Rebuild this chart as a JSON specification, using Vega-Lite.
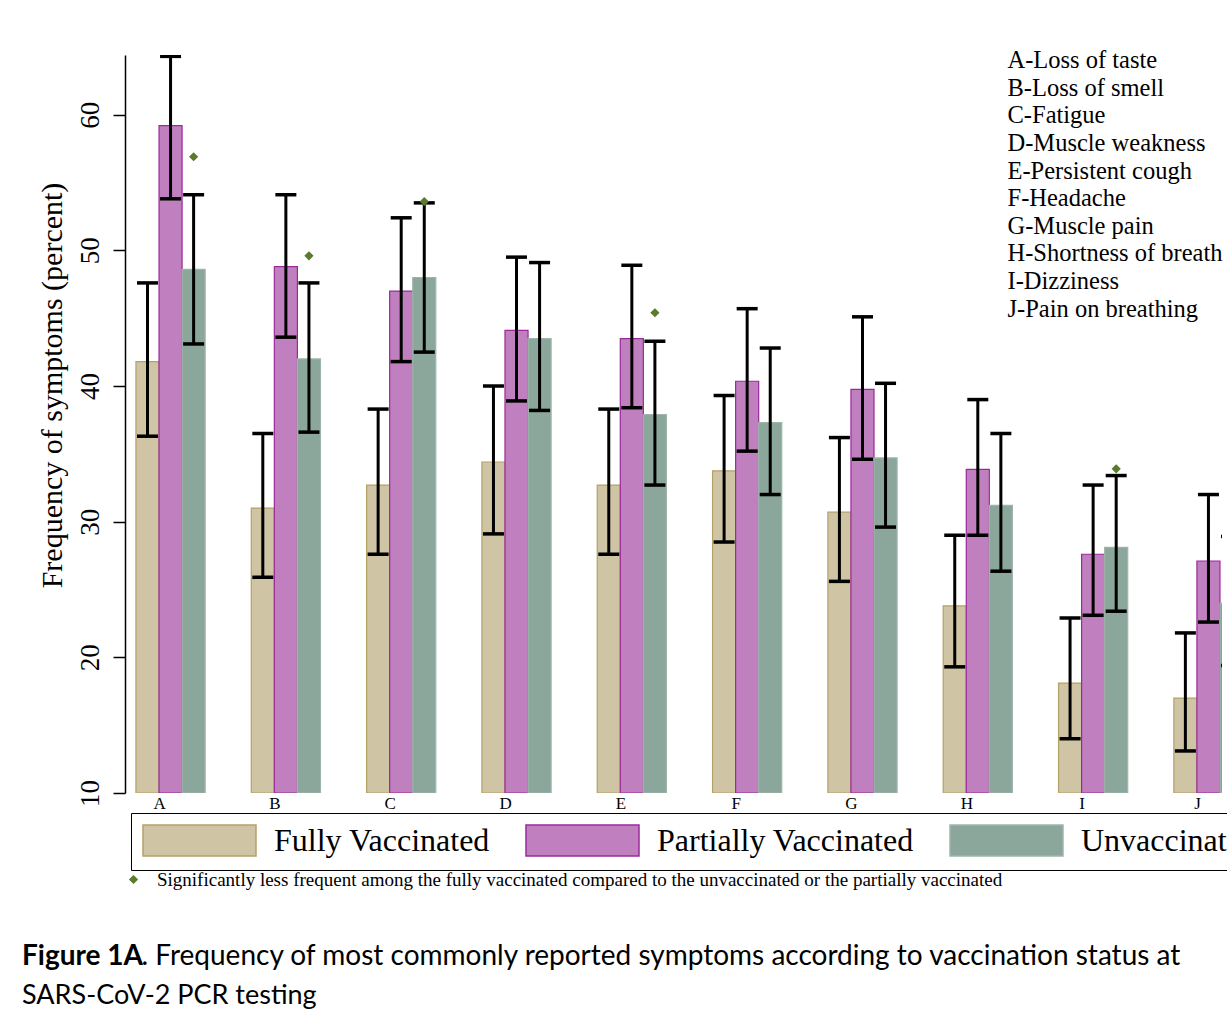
{
  "$schema": "https://vega.github.io/schema/vega-lite/v6.json",
  "autosize": "none",
  "width": 1097,
  "height": 738,
  "padding": {"left": 125, "top": 55, "right": 5, "bottom": 237},
  "background": "white",
  "config": {"view": {"stroke": null}, "font": "Liberation Serif"},
  "datasets": {
    "bars": [
      {"sym": "A", "status": "Fully Vaccinated", "value": 41.8, "lo": 36.3, "hi": 47.6},
      {"sym": "A", "status": "Partially Vaccinated", "value": 59.2, "lo": 53.8, "hi": 64.3},
      {"sym": "A", "status": "Unvaccinated", "value": 48.6, "lo": 43.1, "hi": 54.1},
      {"sym": "B", "status": "Fully Vaccinated", "value": 31.0, "lo": 25.9, "hi": 36.5},
      {"sym": "B", "status": "Partially Vaccinated", "value": 48.8, "lo": 43.6, "hi": 54.1},
      {"sym": "B", "status": "Unvaccinated", "value": 42.0, "lo": 36.6, "hi": 47.6},
      {"sym": "C", "status": "Fully Vaccinated", "value": 32.7, "lo": 27.6, "hi": 38.3},
      {"sym": "C", "status": "Partially Vaccinated", "value": 47.0, "lo": 41.8, "hi": 52.4},
      {"sym": "C", "status": "Unvaccinated", "value": 48.0, "lo": 42.5, "hi": 53.5},
      {"sym": "D", "status": "Fully Vaccinated", "value": 34.4, "lo": 29.1, "hi": 40.0},
      {"sym": "D", "status": "Partially Vaccinated", "value": 44.1, "lo": 38.9, "hi": 49.5},
      {"sym": "D", "status": "Unvaccinated", "value": 43.5, "lo": 38.2, "hi": 49.1},
      {"sym": "E", "status": "Fully Vaccinated", "value": 32.7, "lo": 27.6, "hi": 38.3},
      {"sym": "E", "status": "Partially Vaccinated", "value": 43.5, "lo": 38.4, "hi": 48.9},
      {"sym": "E", "status": "Unvaccinated", "value": 37.9, "lo": 32.7, "hi": 43.3},
      {"sym": "F", "status": "Fully Vaccinated", "value": 33.75, "lo": 28.5, "hi": 39.3},
      {"sym": "F", "status": "Partially Vaccinated", "value": 40.35, "lo": 35.2, "hi": 45.7},
      {"sym": "F", "status": "Unvaccinated", "value": 37.3, "lo": 32.0, "hi": 42.8},
      {"sym": "G", "status": "Fully Vaccinated", "value": 30.7, "lo": 25.6, "hi": 36.2},
      {"sym": "G", "status": "Partially Vaccinated", "value": 39.75, "lo": 34.6, "hi": 45.1},
      {"sym": "G", "status": "Unvaccinated", "value": 34.7, "lo": 29.6, "hi": 40.2},
      {"sym": "H", "status": "Fully Vaccinated", "value": 23.8, "lo": 19.3, "hi": 29.0},
      {"sym": "H", "status": "Partially Vaccinated", "value": 33.85, "lo": 29.0, "hi": 39.0},
      {"sym": "H", "status": "Unvaccinated", "value": 31.2, "lo": 26.35, "hi": 36.5},
      {"sym": "I", "status": "Fully Vaccinated", "value": 18.1, "lo": 14.0, "hi": 22.9},
      {"sym": "I", "status": "Partially Vaccinated", "value": 27.6, "lo": 23.1, "hi": 32.7},
      {"sym": "I", "status": "Unvaccinated", "value": 28.1, "lo": 23.4, "hi": 33.4},
      {"sym": "J", "status": "Fully Vaccinated", "value": 17.0, "lo": 13.1, "hi": 21.8},
      {"sym": "J", "status": "Partially Vaccinated", "value": 27.1, "lo": 22.6, "hi": 32.0},
      {"sym": "J", "status": "Unvaccinated", "value": 24.0, "lo": 19.4, "hi": 28.9}
    ],
    "diamonds": [
      {"sym": "A", "status": "Unvaccinated", "sig": 56.9},
      {"sym": "B", "status": "Unvaccinated", "sig": 49.6},
      {"sym": "C", "status": "Unvaccinated", "sig": 53.6},
      {"sym": "E", "status": "Unvaccinated", "sig": 45.4},
      {"sym": "I", "status": "Unvaccinated", "sig": 33.9},
      {"sym": "J", "status": "Unvaccinated", "sig": 31.0}
    ],
    "keys": [
      {"key": "A-Loss of taste"},
      {"key": "B-Loss of smell"},
      {"key": "C-Fatigue"},
      {"key": "D-Muscle weakness"},
      {"key": "E-Persistent cough"},
      {"key": "F-Headache"},
      {"key": "G-Muscle pain"},
      {"key": "H-Shortness of breath"},
      {"key": "I-Dizziness"},
      {"key": "J-Pain on breathing"}
    ]
  },
  "title": {
    "text": "Figure 1A",
    "subtitle": "SARS-CoV-2 PCR testing",
    "orient": "bottom",
    "anchor": "start",
    "frame": "group",
    "font": "Lato",
    "fontSize": 28,
    "fontWeight": "bold",
    "color": "black",
    "baseline": "top",
    "subtitleFont": "Lato",
    "subtitleFontSize": 27,
    "subtitleFontWeight": "normal",
    "subtitleColor": "black",
    "subtitlePadding": 12,
    "dx": -103,
    "offset": -27
  },
  "layer": [
    {
      "data": {"name": "bars"},
      "mark": {"type": "bar", "strokeWidth": 1.2, "clip": true},
      "encoding": {
        "x": {
          "field": "sym", "type": "nominal",
          "scale": {"range": [0, 1129], "paddingInner": 0.4, "paddingOuter": 0.095},
          "axis": {
            "title": ". Frequency of most commonly reported symptoms according to vaccination status at",
            "titleFont": "Lato", "titleFontSize": 28, "titleFontWeight": "normal", "titleColor": "black",
            "titleAlign": "left", "titleBaseline": "top", "titleAnchor": "start", "titleX": 16, "titleY": 149,
            "domain": false, "ticks": false, "labelAngle": 0, "labelFont": "Liberation Serif", "labelFontSize": 17, "labelColor": "black", "labelPadding": 2, "labelOffset": -11
          }
        },
        "xOffset": {"field": "status", "type": "nominal", "sort": ["Fully Vaccinated", "Partially Vaccinated", "Unvaccinated"], "scale": {"paddingInner": 0, "paddingOuter": 0}},
        "y": {
          "field": "value", "type": "quantitative",
          "scale": {"domain": [10, 64.4], "nice": false, "zero": false},
          "axis": {
            "values": [10, 20, 30, 40, 50, 60],
            "title": "Frequency of symptoms (percent)",
            "titleFont": "Liberation Serif", "titleFontSize": 30, "titleFontWeight": "normal", "titleColor": "black",
            "titleAngle": -90, "titleX": -73, "titleY": 330, "titleAlign": "center", "titleBaseline": "middle",
            "labelAngle": -90, "labelAlign": "center", "labelBaseline": "middle",
            "labelFont": "Liberation Serif", "labelFontSize": 27, "labelColor": "black", "labelPadding": 23,
            "tickSize": 12, "tickColor": "black", "tickWidth": 1.5,
            "domainColor": "black", "domainWidth": 1.5, "grid": false
          }
        },
        "y2": {"datum": 10},
        "fill": {
          "field": "status", "type": "nominal",
          "sort": ["Fully Vaccinated", "Partially Vaccinated", "Unvaccinated"],
          "scale": {"domain": ["Fully Vaccinated", "Partially Vaccinated", "Unvaccinated"], "range": ["#cfc4a3", "#c080bf", "#8ba69b"]},
          "legend": {
            "orient": "none", "legendX": 6, "legendY": 758, "direction": "horizontal", "columns": 3,
            "title": null,
            "symbolType": "M-1,-1H6.29V1H-1Z", "symbolSize": 961, "symbolStrokeWidth": 1.5, "symbolOpacity": 1,
            "labelFont": "Liberation Serif", "labelFontSize": 32, "labelColor": "black", "labelOffset": 99, "labelLimit": 0,
            "columnPadding": 33, "padding": 11, "strokeColor": "black"
          }
        },
        "stroke": {
          "field": "status", "type": "nominal",
          "sort": ["Fully Vaccinated", "Partially Vaccinated", "Unvaccinated"],
          "scale": {"domain": ["Fully Vaccinated", "Partially Vaccinated", "Unvaccinated"], "range": ["#b4a168", "#9a2a9a", "#9fb5ab"]}
        }
      }
    },
    {
      "data": {"name": "bars"},
      "mark": {"type": "rule", "color": "black", "strokeWidth": 3, "clip": true},
      "encoding": {
        "x": {"field": "sym", "type": "nominal"},
        "xOffset": {"field": "status", "type": "nominal", "sort": ["Fully Vaccinated", "Partially Vaccinated", "Unvaccinated"]},
        "y": {"field": "lo", "type": "quantitative"},
        "y2": {"field": "hi"}
      }
    },
    {
      "data": {"name": "bars"},
      "mark": {"type": "tick", "color": "black", "orient": "horizontal", "size": 21, "thickness": 3.5, "opacity": 1, "clip": true},
      "encoding": {
        "x": {"field": "sym", "type": "nominal"},
        "xOffset": {"field": "status", "type": "nominal", "sort": ["Fully Vaccinated", "Partially Vaccinated", "Unvaccinated"]},
        "y": {"field": "lo", "type": "quantitative"}
      }
    },
    {
      "data": {"name": "bars"},
      "mark": {"type": "tick", "color": "black", "orient": "horizontal", "size": 21, "thickness": 3.5, "opacity": 1, "clip": true},
      "encoding": {
        "x": {"field": "sym", "type": "nominal"},
        "xOffset": {"field": "status", "type": "nominal", "sort": ["Fully Vaccinated", "Partially Vaccinated", "Unvaccinated"]},
        "y": {"field": "hi", "type": "quantitative"}
      }
    },
    {
      "data": {"name": "diamonds"},
      "mark": {"type": "point", "shape": "diamond", "filled": true, "color": "#5a7a2e", "size": 85, "opacity": 1},
      "encoding": {
        "x": {"field": "sym", "type": "nominal"},
        "xOffset": {"field": "status", "type": "nominal", "sort": ["Fully Vaccinated", "Partially Vaccinated", "Unvaccinated"]},
        "y": {"field": "sig", "type": "quantitative"},
        "shape": {
          "datum": "Significantly less frequent among the fully vaccinated compared to the unvaccinated or the partially vaccinated",
          "type": "nominal",
          "scale": {"range": ["diamond"]},
          "legend": {
            "orient": "none", "legendX": -1, "legendY": 815, "title": null, "padding": 0,
            "symbolFillColor": "#5a7a2e", "symbolStrokeColor": "#5a7a2e", "symbolSize": 85, "symbolOpacity": 1,
            "labelFont": "Liberation Serif", "labelFontSize": 19, "labelColor": "black", "labelOffset": 14, "labelLimit": 0
          }
        }
      }
    },
    {
      "data": {"name": "keys"},
      "mark": {"type": "point", "size": 0, "opacity": 0},
      "encoding": {
        "opacity": {
          "field": "key", "type": "ordinal", "sort": null,
          "legend": {
            "orient": "none", "legendX": 858, "legendY": -6, "title": null, "padding": 0,
            "symbolSize": 0, "symbolOpacity": 0,
            "labelFont": "Liberation Serif", "labelFontSize": 24.5, "labelColor": "black", "labelOffset": 0, "labelLimit": 0,
            "rowPadding": 2.6
          }
        }
      }
    }
  ]
}
